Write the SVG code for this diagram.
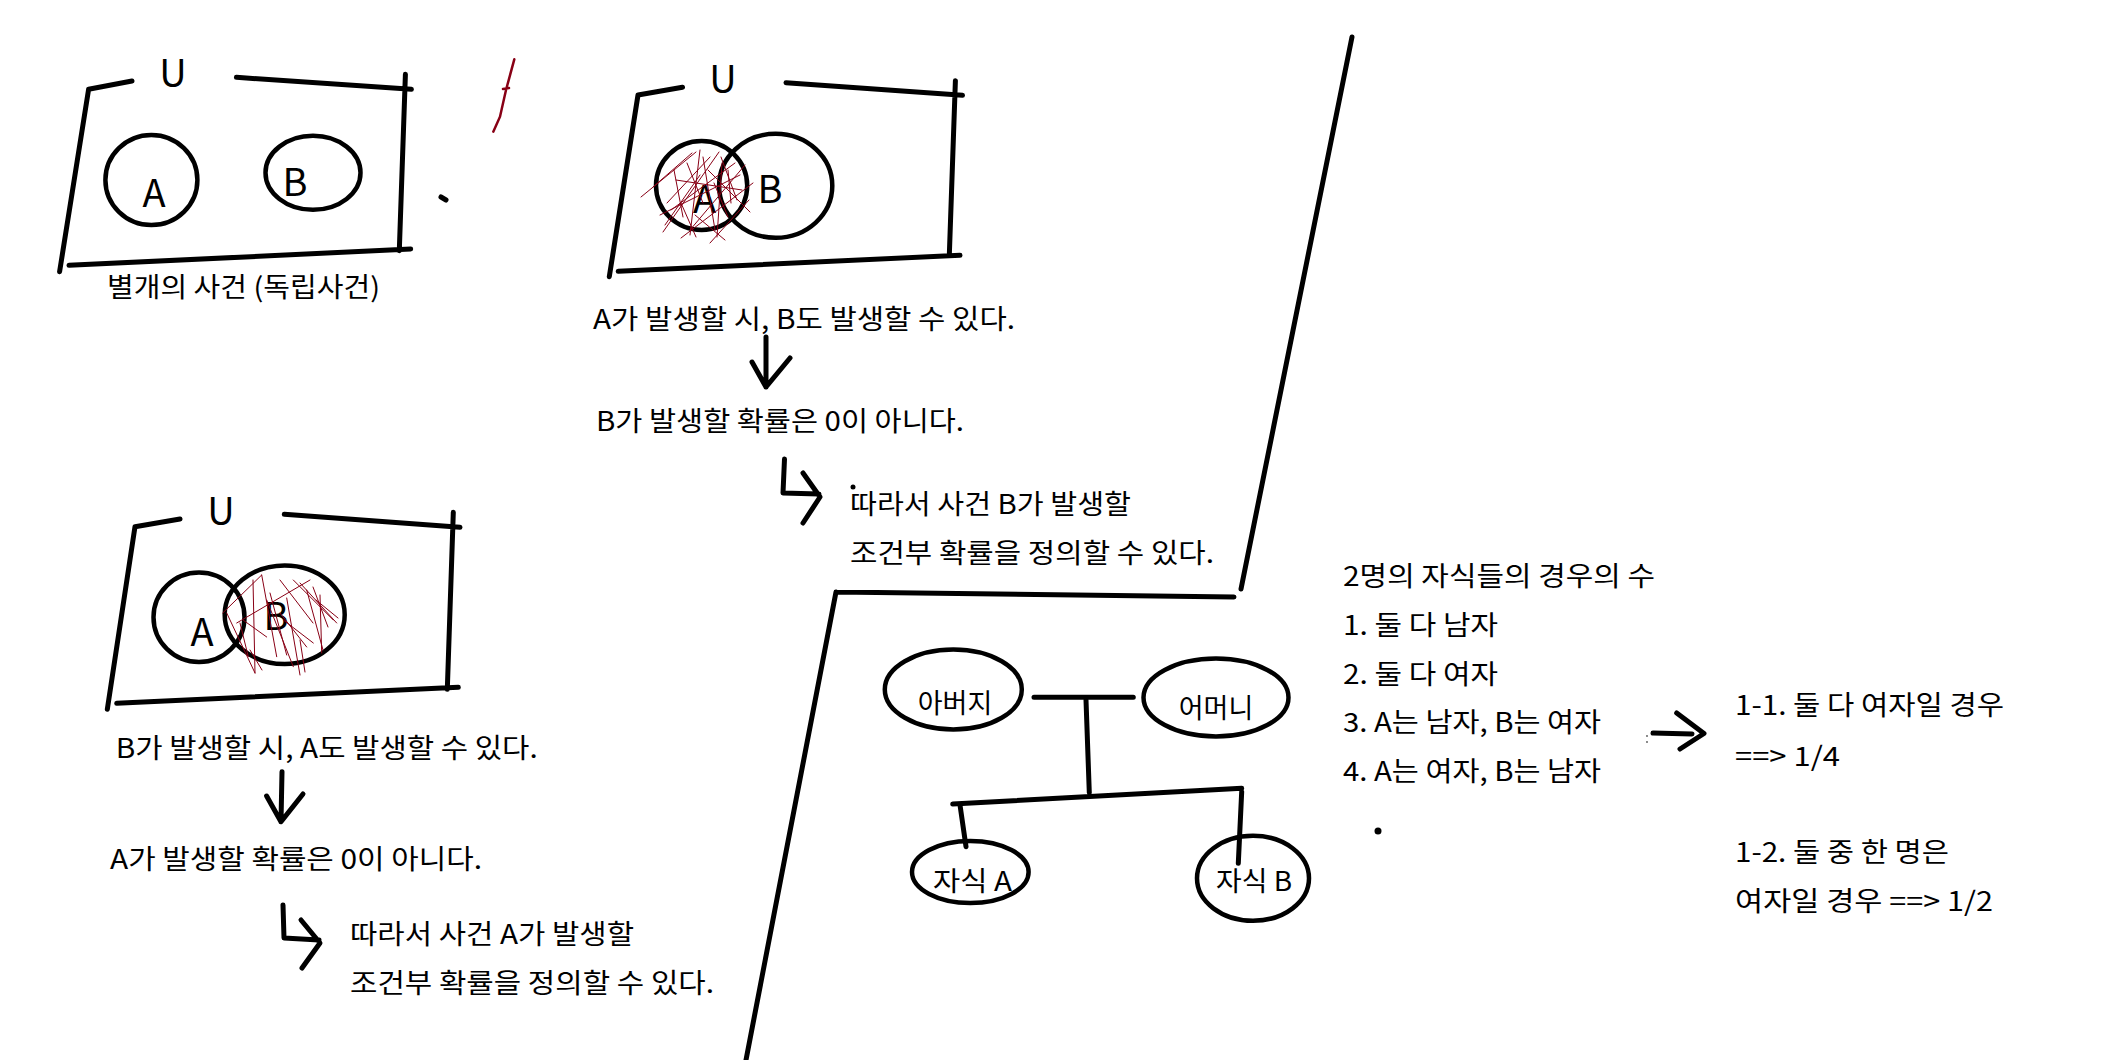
<svg xmlns="http://www.w3.org/2000/svg" width="2104" height="1060" viewBox="0 0 2104 1060">
<style>
.ln{stroke:#000;stroke-width:5;fill:none;stroke-linecap:round;stroke-linejoin:round}
.el{stroke:#000;stroke-width:4.5;fill:none}
.ht{stroke:#880015;stroke-width:1;fill:none;stroke-linecap:round}
.t{font-family:"Noto Sans CJK KR","Noto Sans",sans-serif;font-size:27px;fill:#000}
.big{font-size:38px;text-anchor:middle}
.mid{text-anchor:middle}
</style>
<rect width="2104" height="1060" fill="#fff"/>

<g id="venn-independent">
<path class="ln" d="M88.6,89.3 L132,81 M88.6,89.3 L59.6,271.7 M236.4,77.3 L411.4,89.3 M405.4,74.3 L399.3,250.7 M69,265.3 L410.7,249"/>
<ellipse class="el" cx="151.4" cy="180" rx="46" ry="45"/>
<ellipse class="el" cx="313" cy="172.8" rx="47.5" ry="37"/>
<text class="t big" x="173" y="87">U</text>
<text class="t big" x="154" y="207">A</text>
<text class="t big" x="295" y="196">B</text>
<text class="t" x="107" y="297" textLength="273" lengthAdjust="spacingAndGlyphs">별개의 사건 (독립사건)</text>
<path d="M514.3,59.3 L506,90 L500,116.7 L493.3,131.7 M503,89 L509,88" stroke="#880015" stroke-width="2.5" fill="none" stroke-linecap="round"/>
<path class="ln" d="M441,197 L446,200"/>
</g>

<g id="venn-a-given">
<path class="ln" d="M638,95 L682.5,87.3 M638,95 L609.3,276.7 M786,82.7 L962.5,95.3 M955.4,80.7 L949.3,255.7 M618.2,271.3 L960,255.3"/>
<ellipse class="el" cx="701.6" cy="185.5" rx="45.6" ry="44.5"/>
<ellipse class="el" cx="775.7" cy="185.8" rx="56.6" ry="52"/>
<text class="t big" x="723" y="93">U</text>
<text class="t big" x="704.5" y="213">A</text>
<text class="t big" x="770" y="203">B</text>
<path class="ht" d="M641,197 L696,152 M663,232 L719,152 M681,238 L753,183 M710,243 L749,200 M667,203 L710,157 M671,210 L735,163 M674,170 L683,217 M687,163 L703,203 M703,157 L715,230 M721,157 L737,200 M728,170 L731,203 M722,163 L717,237 M653,187 L692,153 M681,203 L696,237 M714,183 L728,217 M660,215 L740,175 M690,230 L745,165 M700,150 L690,235 M676,180 L742,190 M665,225 L700,175 M695,215 L725,240 M708,170 L750,212"/>
</g>

<g id="venn-b-given">
<path class="ln" d="M135,526.7 L180,519 M135,526.7 L107.3,709.3 M284.3,514.3 L460,527.3 M453.3,512.3 L447.3,689.3 M116.7,703.3 L458.3,687.3"/>
<ellipse class="el" cx="199" cy="617.3" rx="45.5" ry="44.7"/>
<ellipse class="el" cx="284.7" cy="614.7" rx="60" ry="49.3"/>
<text class="t big" x="221" y="525">U</text>
<text class="t big" x="202" y="646">A</text>
<text class="t big" x="276" y="630">B</text>
<path class="ht" d="M222.7,613 L261.7,575 M261.7,575 L276.7,656.7 M253,580 L255,673 M236.7,623 L310,580 M280,580 L313,623 M286.7,598 L300,675 M300,583 L336.7,623 M306.7,590 L323,650 M320,595 L321.7,653 M270,593 L286.7,655 M283.3,620 L313.3,643 M226.7,613 L255,673 M240,623 L248.3,656.7 M293.3,580 L333.3,620 M313,587 L328,627 M266.7,600 L293.3,666.7 M280,613 L306.7,647 M243,620 L266.7,637 M300,640 L305,672 M316,600 L338,618 M250,650 L262,670"/>
</g>

<g id="text-a-given">
<text class="t" x="593" y="329" textLength="422" lengthAdjust="spacingAndGlyphs">A가 발생할 시, B도 발생할 수 있다.</text>
<text class="t" x="596" y="431" textLength="368" lengthAdjust="spacingAndGlyphs">B가 발생할 확률은 0이 아니다.</text>
<text class="t" x="850" y="514" textLength="281" lengthAdjust="spacingAndGlyphs">따라서 사건 B가 발생할</text>
<text class="t" x="850" y="563" textLength="364" lengthAdjust="spacingAndGlyphs">조건부 확률을 정의할 수 있다.</text>
<circle cx="853" cy="487" r="2.5" fill="#000"/>
</g>

<g id="text-b-given">
<text class="t" x="115.7" y="758" textLength="422" lengthAdjust="spacingAndGlyphs">B가 발생할 시, A도 발생할 수 있다.</text>
<text class="t" x="110" y="869" textLength="372" lengthAdjust="spacingAndGlyphs">A가 발생할 확률은 0이 아니다.</text>
<text class="t" x="350" y="944" textLength="284" lengthAdjust="spacingAndGlyphs">따라서 사건 A가 발생할</text>
<text class="t" x="350" y="993" textLength="364" lengthAdjust="spacingAndGlyphs">조건부 확률을 정의할 수 있다.</text>
</g>

<g id="father">
<ellipse class="el" cx="953.3" cy="689.5" rx="68.5" ry="40"/>
<text class="t mid" x="955" y="713">아버지</text>
</g>
<g id="mother">
<ellipse class="el" cx="1216" cy="697.5" rx="72.5" ry="39"/>
<text class="t mid" x="1216" y="718">어머니</text>
</g>
<g id="child-a">
<ellipse class="el" cx="970.3" cy="872" rx="58.3" ry="31"/>
<text class="t" x="933" y="891" textLength="79" lengthAdjust="spacingAndGlyphs">자식 A</text>
</g>
<g id="child-b">
<ellipse class="el" cx="1253" cy="878.3" rx="56" ry="42.5"/>
<text class="t" x="1216" y="891" textLength="76" lengthAdjust="spacingAndGlyphs">자식 B</text>
</g>

<g id="cases">
<text class="t" x="1343" y="586" textLength="312" lengthAdjust="spacingAndGlyphs">2명의 자식들의 경우의 수</text>
<text class="t" x="1343" y="635" textLength="155" lengthAdjust="spacingAndGlyphs">1. 둘 다 남자</text>
<text class="t" x="1343" y="684" textLength="155" lengthAdjust="spacingAndGlyphs">2. 둘 다 여자</text>
<text class="t" x="1343" y="732" textLength="258" lengthAdjust="spacingAndGlyphs">3. A는 남자, B는 여자</text>
<text class="t" x="1343" y="781" textLength="258" lengthAdjust="spacingAndGlyphs">4. A는 여자, B는 남자</text>
<circle cx="1378" cy="831" r="3.5" fill="#000"/>
<circle cx="1647" cy="736" r="0.9" fill="#555"/>
<circle cx="1647" cy="742" r="0.9" fill="#555"/>
</g>

<g id="results">
<text class="t" x="1735" y="715" textLength="269" lengthAdjust="spacingAndGlyphs">1-1. 둘 다 여자일 경우</text>
<text class="t" x="1735" y="766" textLength="105" lengthAdjust="spacingAndGlyphs">==&gt; 1/4</text>
<text class="t" x="1735" y="862" textLength="214" lengthAdjust="spacingAndGlyphs">1-2. 둘 중 한 명은</text>
<text class="t" x="1735" y="911" textLength="258" lengthAdjust="spacingAndGlyphs">여자일 경우 ==&gt; 1/2</text>
</g>

<g id="connectors">
<path class="ln" d="M1352,37 L1241,589 M836,592 L1234,597 M836,592 L746,1060"/>
<path class="ln" d="M766,337 L766,387 M752,362 L766,387 L790,358"/>
<path class="ln" d="M784.5,459 L783,493 L819,494 M803,473 L820,497 L803,523"/>
<path class="ln" d="M282,771.7 L281,821.7 M266.6,796 L281,821.7 L303,794"/>
<path class="ln" d="M283,905 L284,938 L319,940 M301,920 L320,943 L302,968"/>
<path class="ln" d="M1034,697.3 L1133.3,697.3 M1086,700 L1089.3,792.7 M952.7,804 L1241.7,788.3 M960,805 L966,846.7 M1241.7,791.7 L1238.3,863.3"/>
<path class="ln" d="M1653,733 L1692,734 M1676.7,713 L1704,733.5 L1680,749"/>
</g>
</svg>
